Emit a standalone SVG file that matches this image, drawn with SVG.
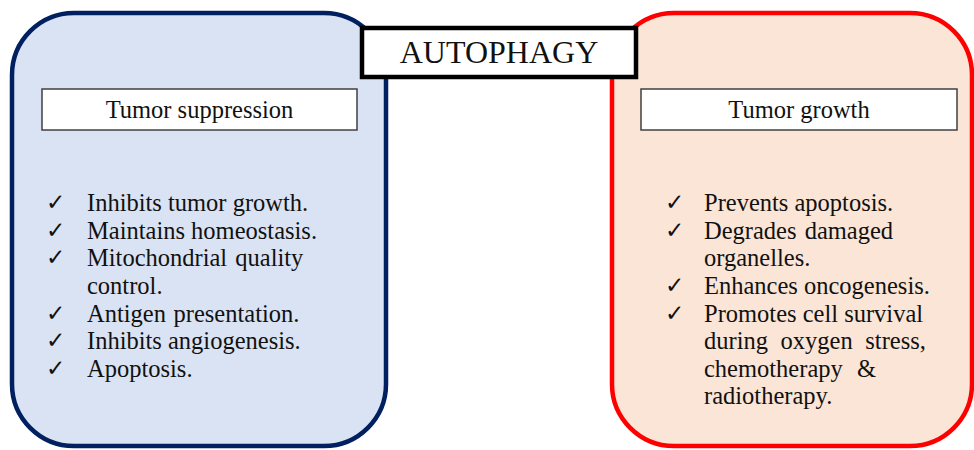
<svg xmlns="http://www.w3.org/2000/svg" width="974" height="450" viewBox="0 0 974 450">
  <style>
    .panel { stroke-width: 4.5; }
    .label-box { fill: #ffffff; stroke: #404040; stroke-width: 1.5; }
    .txt { font-family: "Liberation Serif", "Times New Roman", serif; fill: #111111; }
    .head { font-size: 24.5px; text-anchor: middle; }
    .item { font-size: 24.5px; }
    .tick { font-family: "DejaVu Sans", sans-serif; font-size: 23px; fill: #111111; }
  </style>

  <!-- Left panel: tumor suppression -->
  <g id="suppression">
    <rect class="panel" x="12" y="13" width="374" height="433" rx="62" ry="62" fill="#dae3f3" stroke="#002060"/>
    <rect class="label-box" x="42" y="89" width="315" height="41"/>
    <text class="txt head" x="199.5" y="118">Tumor suppression</text>
    <g class="tick">
      <text x="46" y="210">✓</text>
      <text x="46" y="238">✓</text>
      <text x="46" y="265">✓</text>
      <text x="46" y="321">✓</text>
      <text x="46" y="348">✓</text>
      <text x="46" y="376">✓</text>
    </g>
    <g class="txt item">
      <text x="87" y="211">Inhibits tumor growth.</text>
      <text x="87" y="239">Maintains homeostasis.</text>
      <text x="87" y="266" word-spacing="2">Mitochondrial quality</text>
      <text x="87" y="294">control.</text>
      <text x="87" y="322" word-spacing="1.5">Antigen presentation.</text>
      <text x="87" y="349">Inhibits angiogenesis.</text>
      <text x="87" y="377">Apoptosis.</text>
    </g>
  </g>

  <!-- Right panel: tumor growth -->
  <g id="growth">
    <rect class="panel" x="612" y="13" width="360" height="433" rx="62" ry="62" fill="#fbe5d6" stroke="#ff0000"/>
    <rect class="label-box" x="641" y="89" width="316" height="41"/>
    <text class="txt head" x="799" y="118">Tumor growth</text>
    <g class="tick">
      <text x="665" y="210">✓</text>
      <text x="665" y="238">✓</text>
      <text x="665" y="293">✓</text>
      <text x="665" y="321">✓</text>
    </g>
    <g class="txt item">
      <text x="704" y="211">Prevents apoptosis.</text>
      <text x="704" y="239" word-spacing="2">Degrades damaged</text>
      <text x="704" y="266">organelles.</text>
      <text x="704" y="294">Enhances oncogenesis.</text>
      <text x="704" y="322">Promotes cell survival</text>
      <text x="704" y="349" word-spacing="6.5">during oxygen stress,</text>
      <text x="704" y="377" word-spacing="8">chemotherapy &amp;</text>
      <text x="704" y="404">radiotherapy.</text>
    </g>
  </g>

  <!-- Title box across the two panels -->
  <g id="autophagy">
    <rect x="362" y="28" width="274" height="49" fill="#ffffff" stroke="#000000" stroke-width="4.5"/>
    <text class="txt" x="499" y="63" font-size="32" text-anchor="middle">AUTOPHAGY</text>
  </g>
</svg>
